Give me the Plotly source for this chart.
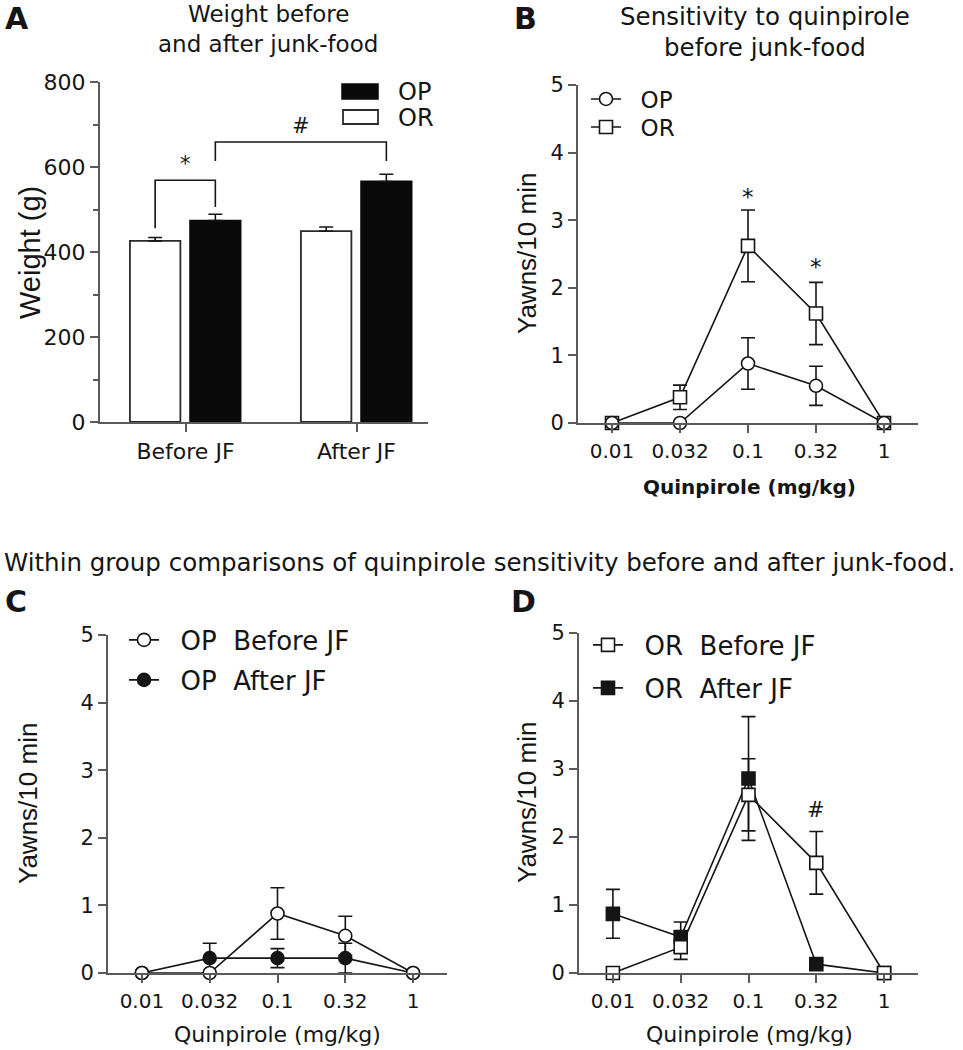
import plotly.graph_objects as go

W, H = 963, 1050

# ---------------- data ----------------
groups = ["Before JF", "After JF"]
or_weight = [426, 449]
or_weight_sem = [8, 10]
op_weight = [474, 566]
op_weight_sem = [15, 17]

doses = ["0.01", "0.032", "0.1", "0.32", "1"]

op_before = [0, 0, 0.88, 0.55, 0]
op_before_sem = [0, 0, 0.38, 0.29, 0]
or_before = [0, 0.38, 2.62, 1.62, 0]
or_before_sem = [0, 0.18, 0.53, 0.46, 0]

op_after = [0, 0.22, 0.22, 0.22, 0]
op_after_sem = [0, 0.22, 0.14, 0.22, 0]
or_after = [0.87, 0.53, 2.86, 0.13, 0]
or_after_sem = [0.36, 0.22, 0.91, 0.05, 0]

# significance marks
b_star_dose_idx = [2, 3]
b_star_y = [3.35, 2.31]
d_hash_dose_idx = [3]
d_hash_y = [2.4]
# weight brackets: (left x, right x, left leg bottom, right leg bottom, top, label)
bar_offset_or, bar_offset_op, bar_w = -0.325, 0.027, 0.295
c_or = bar_offset_or + bar_w / 2
c_op = bar_offset_op + bar_w / 2
brackets = [
    (c_or, c_op, 456, 506, 569, "*"),
    (c_op, 1 + c_op, 614, 614, 659, "#"),
]

HFONT = "DejaVu Sans"
VFONT = "Liberation Sans, Arial"
INK = "#151515"
AXC = "#5a5a5a"
NB = "\u00a0"


def px_x(p):
    return p / W


def px_y(p):
    return 1 - p / H


fig = go.Figure()

# ---------------- Panel A ----------------
fig.add_trace(go.Bar(
    x=[0, 1], y=or_weight, width=bar_w, offset=bar_offset_or,
    marker=dict(color="white", line=dict(color="#2a2a2a", width=1.8)),
    error_y=dict(type="data", array=or_weight_sem, arrayminus=[0, 0], symmetric=False,
                 color=INK, thickness=1.6, width=7),
    xaxis="x", yaxis="y", showlegend=False, name="OR"))
fig.add_trace(go.Bar(
    x=[0, 1], y=op_weight, width=bar_w, offset=bar_offset_op,
    marker=dict(color="#0a0a0a", line=dict(color="#0a0a0a", width=1.8)),
    error_y=dict(type="data", array=op_weight_sem, arrayminus=[0, 0], symmetric=False,
                 color=INK, thickness=1.6, width=7),
    xaxis="x", yaxis="y", showlegend=False, name="OP"))

shapes = []
annotations = []
for (xl, xr, yl, yr, yt, lab) in brackets:
    shapes.append(dict(type="path", xref="x", yref="y",
                       path=f"M {xl},{yl} L {xl},{yt} L {xr},{yt} L {xr},{yr}",
                       line=dict(color=INK, width=1.6)))
    annotations.append(dict(x=(xl + xr) / 2, y=yt, xref="x", yref="y", text=lab,
                            showarrow=False, yanchor="bottom", yshift=2,
                            font=dict(family=HFONT, size=21, color=INK)))

# manual bar legend for A
shapes.append(dict(type="rect", xref="paper", yref="paper",
                   x0=px_x(342), x1=px_x(378), y0=px_y(99), y1=px_y(84),
                   fillcolor="#0a0a0a", line=dict(color="#0a0a0a", width=1.5)))
shapes.append(dict(type="rect", xref="paper", yref="paper",
                   x0=px_x(343), x1=px_x(378), y0=px_y(124), y1=px_y(110),
                   fillcolor="white", line=dict(color="#2a2a2a", width=1.8)))
annotations.append(dict(x=px_x(396), y=px_y(92), xref="paper", yref="paper", text="OP",
                        showarrow=False, xanchor="left", yanchor="middle",
                        font=dict(family=HFONT, size=24, color=INK)))
annotations.append(dict(x=px_x(396), y=px_y(118), xref="paper", yref="paper", text="OR",
                        showarrow=False, xanchor="left", yanchor="middle",
                        font=dict(family=HFONT, size=24, color=INK)))

# ---------------- line panels ----------------
xi = list(range(len(doses)))


def line_trace(y, sem, symbol, fill, name, ax, legend):
    return go.Scatter(
        x=xi, y=y, mode="lines+markers", name=name,
        line=dict(color=INK, width=1.6),
        marker=dict(symbol=symbol, size=13, color=fill, line=dict(color=INK, width=1.6)),
        error_y=dict(type="data", array=sem, color=INK, thickness=1.6, width=7),
        xaxis="x" + ax, yaxis="y" + ax, legend=legend, cliponaxis=False)


# Panel B
fig.add_trace(line_trace(or_before, or_before_sem, "square", "white", NB * 2 + "OR", "2", "legend2"))
fig.add_trace(line_trace(op_before, op_before_sem, "circle", "white", NB * 2 + "OP", "2", "legend"))
# Panel C
fig.add_trace(line_trace(op_after, op_after_sem, "circle", INK, NB * 2 + "OP  After JF", "3", "legend4"))
fig.add_trace(line_trace(op_before, op_before_sem, "circle", "white", NB * 2 + "OP  Before JF", "3", "legend3"))
# Panel D
fig.add_trace(line_trace(or_after, or_after_sem, "square", INK, NB * 2 + "OR  After JF", "4", "legend6"))
fig.add_trace(line_trace(or_before, or_before_sem, "square", "white", NB * 2 + "OR  Before JF", "4", "legend5"))

for i, yv in zip(b_star_dose_idx, b_star_y):
    annotations.append(dict(x=i, y=yv, xref="x2", yref="y2", text="*", showarrow=False,
                            yanchor="middle", font=dict(family=HFONT, size=23, color=INK)))
for i, yv in zip(d_hash_dose_idx, d_hash_y):
    annotations.append(dict(x=i, y=yv, xref="x4", yref="y4", text="#", showarrow=False,
                            yanchor="middle", font=dict(family=HFONT, size=21, color=INK)))


# ---------------- titles / labels ----------------
def txt(x, y, s, size, bold=False, anchor="center", family=HFONT, angle=0):
    annotations.append(dict(x=px_x(x), y=px_y(y), xref="paper", yref="paper",
                            text=f"<b>{s}</b>" if bold else s, showarrow=False,
                            xanchor=anchor, yanchor="middle", textangle=angle,
                            font=dict(family=family, size=size, color=INK)))


txt(3, 19, "A", 30, bold=True, anchor="left")
txt(512, 19, "B", 30, bold=True, anchor="left")
txt(3, 601, "C", 30, bold=True, anchor="left")
txt(509, 601, "D", 30, bold=True, anchor="left")
txt(268, 14, "Weight before", 23)
txt(268, 44, "and after junk-food", 23)
txt(765, 16, "Sensitivity to quinpirole", 24.5)
txt(765, 47, "before junk-food", 24.5)
txt(2, 562, "Within group comparisons of quinpirole sensitivity before and after junk-food.", 24.5,
    anchor="left")

# y titles (rotated)
txt(30, 253, "Weight (g)", 29, family=VFONT, angle=-90)
txt(527, 254, "Yawns/10 min", 26, family=VFONT, angle=-90)
txt(28, 804, "Yawns/10 min", 26, family=VFONT, angle=-90)
txt(527, 803, "Yawns/10 min", 26, family=VFONT, angle=-90)
# x titles
txt(749, 487, "Quinpirole (mg/kg)", 20, bold=True)
txt(277, 1034, "Quinpirole (mg/kg)", 22)
txt(749, 1034, "Quinpirole (mg/kg)", 22)

# ---------------- axes ----------------
common = dict(showline=True, linecolor=AXC, linewidth=2, ticks="outside", ticklen=8,
              tickwidth=2, tickcolor=AXC, showgrid=False, zeroline=False, automargin=False,
              tickfont=dict(family=HFONT, size=20, color=INK))


def xax(dom, anchor):
    d = dict(common)
    d.update(domain=[px_x(dom[0]), px_x(dom[1])], anchor=anchor, range=[-0.5, 4.5],
             tickvals=xi, ticktext=doses, ticklabelstandoff=1)
    return d


def yax(dom, anchor):
    d = dict(common)
    d.update(domain=[px_y(dom[1]), px_y(dom[0])], anchor=anchor, range=[0, 5],
             tickvals=[0, 1, 2, 3, 4, 5], tickfont=dict(family=HFONT, size=21, color=INK),
             ticklabelstandoff=0)
    return d


xa = dict(common)
xa.update(domain=[px_x(100), px_x(428)], anchor="y", range=[-0.5, 1.418],
          tickvals=[0, 1], ticktext=groups, ticklabelstandoff=1,
          tickfont=dict(family=HFONT, size=22, color=INK))
ya = dict(common)
ya.update(domain=[px_y(422), px_y(82)], anchor="x", range=[0, 800],
          tickvals=[0, 200, 400, 600, 800], tickfont=dict(family=HFONT, size=22, color=INK),
          ticklabelstandoff=0,
          minor=dict(ticks="outside", ticklen=5, tickwidth=2, tickcolor=AXC, dtick=100))


def leg(cx, cy, size):
    return dict(bgcolor="rgba(0,0,0,0)", xanchor="left", yanchor="middle",
                x=px_x(cx - 19), y=px_y(cy), itemwidth=30,
                font=dict(family=HFONT, size=size, color=INK))


fig.update_layout(
    template="none",
    width=W, height=H, margin=dict(l=0, r=0, t=0, b=0, autoexpand=False),
    paper_bgcolor="white", plot_bgcolor="white", barmode="overlay",
    xaxis=xa, yaxis=ya,
    xaxis2=xax((578, 918), "y2"), yaxis2=yax((85, 423), "x2"),
    xaxis3=xax((108, 447), "y3"), yaxis3=yax((635, 973), "x3"),
    xaxis4=xax((579, 918), "y4"), yaxis4=yax((633, 973), "x4"),
    legend=leg(605, 99, 23),
    legend2=leg(605, 127, 23),
    legend3=leg(143, 640, 26),
    legend4=leg(143, 680, 26),
    legend5=leg(607, 645, 26),
    legend6=leg(607, 688, 26),
    shapes=shapes, annotations=annotations,
)

fig.write_html("out.html",
               config={"displayModeBar": False},
               post_script="document.body.style.margin='0';document.body.style.overflow='hidden';")
